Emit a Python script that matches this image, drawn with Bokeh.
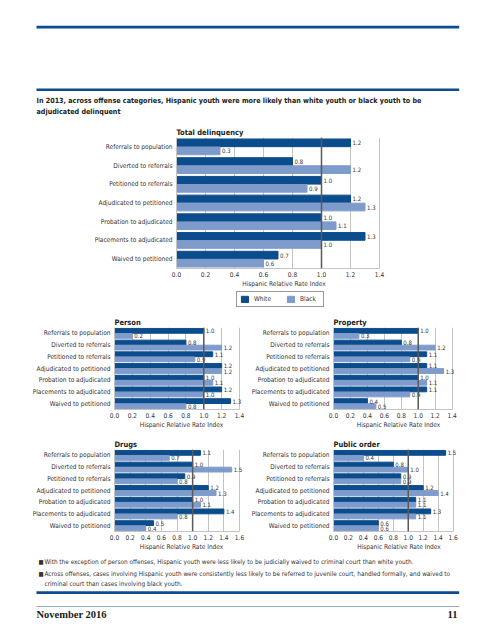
from bokeh.plotting import figure
from bokeh.models import Range1d, Span, Legend, LegendItem, FixedTicker, ColumnDataSource
from bokeh.layouts import column, row
from bokeh.transform import dodge
from bokeh.core.properties import value
from bokeh.embed import file_html
from bokeh.resources import INLINE

categories = ["Referrals to population", "Diverted to referrals", "Petitioned to referrals",
              "Adjudicated to petitioned", "Probation to adjudicated",
              "Placements to adjudicated", "Waived to petitioned"]
series_names = ["White", "Black"]

total_white = [1.2, 0.8, 1.0, 1.2, 1.0, 1.3, 0.7]
total_black = [0.3, 1.2, 0.9, 1.3, 1.1, 1.0, 0.6]
person_white = [1.0, 0.8, 1.1, 1.2, 1.0, 1.2, 1.3]
person_black = [0.2, 1.2, 0.9, 1.2, 1.1, 1.0, 0.8]
property_white = [1.0, 0.8, 1.1, 1.1, 1.0, 1.1, 0.4]
property_black = [0.3, 1.2, 0.9, 1.3, 1.1, 0.9, 0.5]
drugs_white = [1.1, 1.0, 0.9, 1.2, 1.0, 1.4, 0.5]
drugs_black = [0.7, 1.5, 0.8, 1.3, 1.1, 0.8, 0.4]
public_white = [1.5, 0.8, 0.9, 1.2, 1.1, 1.3, 0.6]
public_black = [0.4, 1.0, 0.9, 1.4, 1.1, 1.1, 0.6]

ticks_14 = [0.0, 0.2, 0.4, 0.6, 0.8, 1.0, 1.2, 1.4]
ticks_16 = [0.0, 0.2, 0.4, 0.6, 0.8, 1.0, 1.2, 1.4, 1.6]

main_title = ["In 2013, across offense categories, Hispanic youth were more likely than white youth or black youth to be",
              "adjudicated delinquent"]
bullets = ["With the exception of person offenses, Hispanic youth were less likely to be judicially waived to criminal court than white youth.",
           "Across offenses, cases involving Hispanic youth were consistently less likely to be referred to juvenile court, handled formally, and waived to",
           "criminal court than cases involving black youth."]
footer_left = "November 2016"
footer_right = "11"

DARK = "#0b4c8c"
LIGHT = "#7e9bcb"
FONT = "DejaVu Sans Condensed"
TXT = "#333333"
GRID = "#c4c4c4"
W = 495


def no_align(p):
    if "frame_align" in p.properties():
        p.frame_align = False
    return p


def make_chart(title, white, black, ticks, width, height, left, frame_w, top, frame_h, extra):
    # frame_w: pixels from 0 to the last tick; extra: room right of it for value labels
    xmax = ticks[-1]
    p = figure(width=width, height=height, output_backend="svg", toolbar_location=None,
               y_range=list(reversed(categories)),
               x_range=Range1d(0, xmax * (frame_w + extra) / frame_w),
               min_border_left=left, min_border_right=width - left - frame_w - extra,
               min_border_top=top, min_border_bottom=height - top - frame_h,
               title=title)
    no_align(p)
    src = ColumnDataSource(dict(cat=categories, white=white, black=black,
                                wl=[f"{v:.1f}" for v in white], bl=[f"{v:.1f}" for v in black]))
    p.hbar(y=dodge("cat", 0.215, range=p.y_range), right="white", left=0, height=0.41,
           color=DARK, source=src)
    p.hbar(y=dodge("cat", -0.215, range=p.y_range), right="black", left=0, height=0.41,
           color=LIGHT, source=src)
    for xcol, tcol, off in (("white", "wl", 0.215), ("black", "bl", -0.215)):
        p.text(x=xcol, y=dodge("cat", off, range=p.y_range),
               text=tcol, source=src, x_offset=2, text_baseline="middle", text_align="left",
               text_font_size="6px", text_color=TXT, text_font=value(FONT))
    p.add_layout(Span(location=1.0, dimension="height", line_color="#5a5a5a", line_width=1.5))
    p.title.align = "left"
    p.title.text_font = FONT
    p.title.text_font_size = "7.5px"
    p.title.text_font_style = "bold"
    p.title.text_color = "#222222"
    p.title.standoff = 2
    p.outline_line_color = None
    p.ygrid.grid_line_color = None
    p.xgrid.grid_line_color = GRID
    p.xgrid.ticker = FixedTicker(ticks=ticks)
    p.xaxis.ticker = FixedTicker(ticks=ticks)
    p.xaxis.bounds = (ticks[0], ticks[-1])
    p.xaxis.major_label_overrides = {t: f"{t:.1f}" for t in ticks}
    p.xaxis.axis_label = "Hispanic Relative Rate Index"
    for ax in (p.xaxis, p.yaxis):
        ax.major_tick_line_color = None
        ax.minor_tick_line_color = None
        ax.major_tick_out = 0
        ax.major_label_text_font = FONT
        ax.major_label_text_font_size = "6.5px"
        ax.major_label_text_color = TXT
        ax.axis_label_text_font = FONT
        ax.axis_label_text_font_size = "6.5px"
        ax.axis_label_text_font_style = "normal"
        ax.axis_label_text_color = TXT
        ax.axis_label_standoff = 0
        ax.major_label_standoff = 3
    p.xaxis.axis_line_color = GRID
    p.yaxis.axis_line_color = GRID
    p.yaxis.major_label_standoff = 4
    return p


def canvas(height):
    p = figure(width=W, height=height, output_backend="svg", toolbar_location=None,
               x_range=Range1d(0, W), y_range=Range1d(height, 0),
               min_border=0, min_border_left=0, min_border_right=0,
               min_border_top=0, min_border_bottom=0)
    no_align(p)
    p.axis.visible = False
    p.grid.grid_line_color = None
    p.outline_line_color = None
    return p


# header: page y 0..120
head = canvas(120)
head.quad(left=[36, 36], right=[458.7, 458.7], top=[25.3, 87.9], bottom=[28.0, 90.6],
          fill_color=DARK, line_color=None)
head.text(x=[36, 36], y=[100, 111], text=main_title, text_font=value(FONT), text_font_style="bold",
          text_font_size="7.15px", text_color="#222222", text_baseline="middle")

# total chart: page y 120..290
total = make_chart("Total delinquency", total_white, total_black, ticks_14,
                   W, 170, 176, 203, 17, 132, 12)

# legend strip: page y 290..310; its key renderers sit outside the visible range
leg = canvas(20)
lw = leg.rect(x=[-50], y=[-50], width=[1], height=[1], color=DARK)
lb = leg.rect(x=[-50], y=[-50], width=[1], height=[1], color=LIGHT)
legend = Legend(items=[LegendItem(label=series_names[0], renderers=[lw]),
                       LegendItem(label=series_names[1], renderers=[lb])],
                orientation="horizontal", location=(236, 3), margin=0, padding=3,
                spacing=12, glyph_width=9, glyph_height=8, label_standoff=5, label_height=8,
                label_width=20,
                label_text_font=FONT, label_text_font_size="6.5px", label_text_color=TXT,
                border_line_color="#333333", border_line_width=1, background_fill_alpha=1)
leg.add_layout(legend)

person = make_chart("Person", person_white, person_black, ticks_14, 248, 126, 114, 125, 17, 82, 9)
prop = make_chart("Property", property_white, property_black, ticks_14, 247, 126, 78, 125, 17, 82, 12)
drugs = make_chart("Drugs", drugs_white, drugs_black, ticks_16, 248, 117, 114, 125, 13, 82, 9)
public = make_chart("Public order", public_white, public_black, ticks_16, 247, 117, 78, 126, 13, 82, 12)

# footer: page y 553..640
foot = canvas(87)
foot.text(x=[38, 38], y=[8, 20], text=["\u25A0", "\u25A0"], text_font=value(FONT), text_font_size="6px",
          text_color="#333333", text_baseline="middle")
foot.text(x=[44, 44, 44], y=[8, 20, 30], text=bullets, text_font=value(FONT), text_font_size="6.4px",
          text_color="#333333", text_baseline="middle")
foot.quad(left=[36], right=[458.7], top=[37.7], bottom=[40.4], fill_color=DARK, line_color=None)
foot.segment(x0=[36], y0=[53], x1=[458.7], y1=[53], line_color="#93aac2", line_width=1)
foot.text(x=[36], y=[61], text=[footer_left], text_font=value("Liberation Serif"), text_font_style="bold",
          text_font_size="10.5px", text_color="#1a1a1a", text_baseline="middle")
foot.text(x=[457], y=[61], text=[footer_right], text_font=value("Liberation Serif"), text_font_style="bold",
          text_font_size="10.5px", text_color="#1a1a1a", text_baseline="middle", text_align="right")

layout = column(head, total, leg, row(person, prop, spacing=0), row(drugs, public, spacing=0), foot, spacing=0)

open("out.html", "w").write(file_html(layout, INLINE))
